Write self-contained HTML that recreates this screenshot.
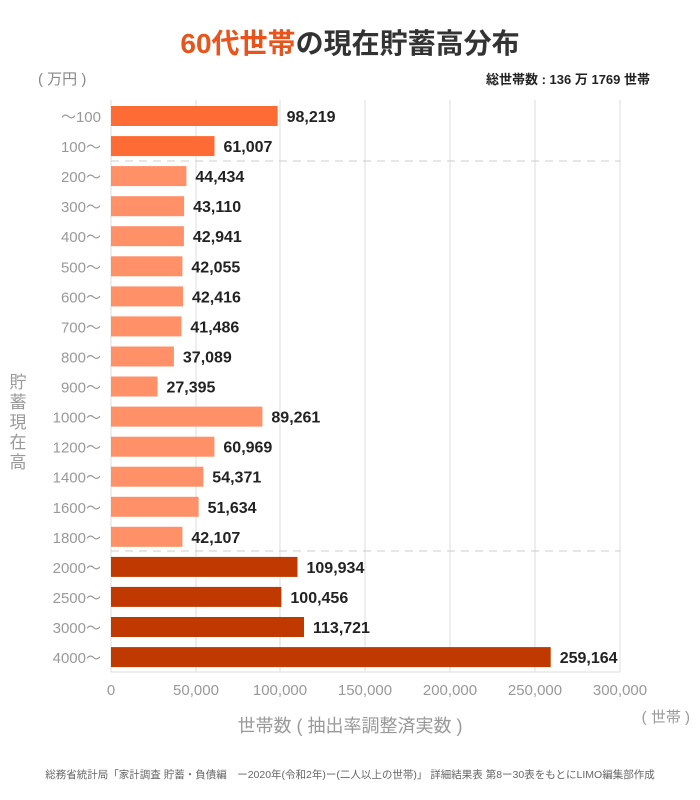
<!DOCTYPE html>
<html><head><meta charset="utf-8"><style>
body{margin:0;background:#fff;}
svg{display:block;font-family:"Liberation Sans","Noto Sans CJK JP",sans-serif;}
</style></head><body>
<svg width="700" height="800" viewBox="0 0 700 800">
<text x="350" y="53" text-anchor="middle" font-size="28" font-weight="bold" fill="#333"><tspan fill="#E8541C">60代世帯</tspan>の現在貯蓄高分布</text>
<text x="38" y="84" font-size="15" fill="#888">( 万円 )</text>
<text x="650" y="84" text-anchor="end" font-size="13" font-weight="bold" fill="#222">総世帯数 : 136 万 1769 世帯</text>
<g stroke="#ddd" stroke-width="1">
<line x1="111" y1="100" x2="111" y2="672"/>
<line x1="196" y1="100" x2="196" y2="672"/>
<line x1="280" y1="100" x2="280" y2="672"/>
<line x1="365" y1="100" x2="365" y2="672"/>
<line x1="450" y1="100" x2="450" y2="672"/>
<line x1="535" y1="100" x2="535" y2="672"/>
<line x1="620" y1="100" x2="620" y2="672"/>
<line x1="111" y1="672" x2="620" y2="672"/>
</g>
<g stroke="#ccc" stroke-dasharray="8,6">
<line x1="111" y1="161" x2="620" y2="161"/>
<line x1="111" y1="551" x2="620" y2="551"/>
</g>
<g>
<rect x="111" y="106" width="166.6" height="20" fill="#FF6B35"/>
<rect x="111" y="136.1" width="103.5" height="20" fill="#FF6B35"/>
<rect x="111" y="166.1" width="75.4" height="20" fill="#FF9068"/>
<rect x="111" y="196.2" width="73.1" height="20" fill="#FF9068"/>
<rect x="111" y="226.2" width="72.9" height="20" fill="#FF9068"/>
<rect x="111" y="256.3" width="71.4" height="20" fill="#FF9068"/>
<rect x="111" y="286.4" width="72.0" height="20" fill="#FF9068"/>
<rect x="111" y="316.4" width="70.4" height="20" fill="#FF9068"/>
<rect x="111" y="346.5" width="62.9" height="20" fill="#FF9068"/>
<rect x="111" y="376.5" width="46.5" height="20" fill="#FF9068"/>
<rect x="111" y="406.6" width="151.4" height="20" fill="#FF9068"/>
<rect x="111" y="436.7" width="103.4" height="20" fill="#FF9068"/>
<rect x="111" y="466.7" width="92.3" height="20" fill="#FF9068"/>
<rect x="111" y="496.8" width="87.6" height="20" fill="#FF9068"/>
<rect x="111" y="526.8" width="71.4" height="20" fill="#FF9068"/>
<rect x="111" y="556.9" width="186.5" height="20" fill="#C03A00"/>
<rect x="111" y="586.9" width="170.4" height="20" fill="#C03A00"/>
<rect x="111" y="617.0" width="193.0" height="20" fill="#C03A00"/>
<rect x="111" y="647.1" width="439.7" height="20" fill="#C03A00"/>
</g>
<g font-size="16" font-weight="bold" fill="#222">
<text x="286.6" y="122">98,219</text>
<text x="223.5" y="152.1">61,007</text>
<text x="195.4" y="182.1">44,434</text>
<text x="193.1" y="212.2">43,110</text>
<text x="192.9" y="242.2">42,941</text>
<text x="191.4" y="272.3">42,055</text>
<text x="192.0" y="302.4">42,416</text>
<text x="190.4" y="332.4">41,486</text>
<text x="182.9" y="362.5">37,089</text>
<text x="166.5" y="392.5">27,395</text>
<text x="271.4" y="422.6">89,261</text>
<text x="223.4" y="452.7">60,969</text>
<text x="212.3" y="482.7">54,371</text>
<text x="207.6" y="512.8">51,634</text>
<text x="191.4" y="542.8">42,107</text>
<text x="306.5" y="572.9">109,934</text>
<text x="290.4" y="602.9">100,456</text>
<text x="313.0" y="633.0">113,721</text>
<text x="559.7" y="663.1">259,164</text>
</g>
<g font-size="15" fill="#999" text-anchor="end">
<text x="101" y="122">～100</text>
<text x="101" y="152.1">100～</text>
<text x="101" y="182.1">200～</text>
<text x="101" y="212.2">300～</text>
<text x="101" y="242.2">400～</text>
<text x="101" y="272.3">500～</text>
<text x="101" y="302.4">600～</text>
<text x="101" y="332.4">700～</text>
<text x="101" y="362.5">800～</text>
<text x="101" y="392.5">900～</text>
<text x="101" y="422.6">1000～</text>
<text x="101" y="452.7">1200～</text>
<text x="101" y="482.7">1400～</text>
<text x="101" y="512.8">1600～</text>
<text x="101" y="542.8">1800～</text>
<text x="101" y="572.9">2000～</text>
<text x="101" y="602.9">2500～</text>
<text x="101" y="633.0">3000～</text>
<text x="101" y="663.1">4000～</text>
</g>
<g font-size="15" fill="#999" text-anchor="middle">
<text x="111" y="695">0</text><text x="196" y="695">50,000</text><text x="280" y="695">100,000</text><text x="365" y="695">150,000</text><text x="450" y="695">200,000</text><text x="535" y="695">250,000</text><text x="620" y="695">300,000</text>
</g>
<text x="350" y="732" text-anchor="middle" font-size="18" fill="#999">世帯数 ( 抽出率調整済実数 )</text>
<text x="690" y="722" text-anchor="end" font-size="15" fill="#999">( 世帯 )</text>
<g font-size="17" fill="#999" text-anchor="middle">
<text x="18" y="388">貯</text><text x="18" y="408">蓄</text><text x="18" y="428">現</text><text x="18" y="448">在</text><text x="18" y="468">高</text>
</g>
<text x="350" y="778" text-anchor="middle" font-size="10.5" fill="#666">総務省統計局「家計調査 貯蓄・負債編　ー2020年(令和2年)ー(二人以上の世帯)」 詳細結果表 第8ー30表をもとにLIMO編集部作成</text>
</svg>
</body></html>
